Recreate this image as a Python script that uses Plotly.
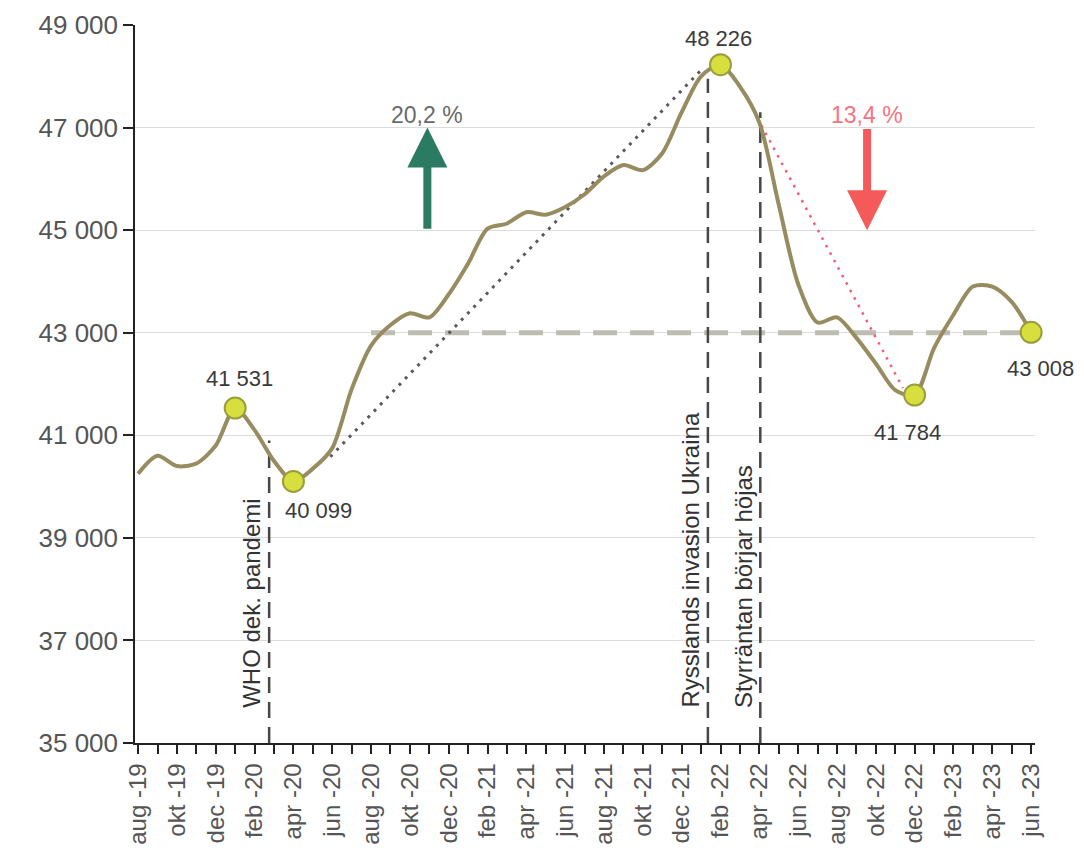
import plotly.graph_objects as go

# ---------------- data ----------------
months = ["aug -19", "sep -19", "okt -19", "nov -19", "dec -19",
          "jan -20", "feb -20", "mar -20", "apr -20", "maj -20", "jun -20", "jul -20",
          "aug -20", "sep -20", "okt -20", "nov -20", "dec -20",
          "jan -21", "feb -21", "mar -21", "apr -21", "maj -21", "jun -21", "jul -21",
          "aug -21", "sep -21", "okt -21", "nov -21", "dec -21",
          "jan -22", "feb -22", "mar -22", "apr -22", "maj -22", "jun -22", "jul -22",
          "aug -22", "sep -22", "okt -22", "nov -22", "dec -22",
          "jan -23", "feb -23", "mar -23", "apr -23", "maj -23", "jun -23"]
values = [40250, 40600, 40400, 40450, 40800, 41531, 41100, 40500, 40099, 40350,
          40750, 41900, 42750, 43150, 43380, 43300, 43750, 44350, 45030, 45130,
          45350, 45300, 45450, 45700, 46050, 46270, 46170, 46500, 47300, 48000,
          48226, 47800, 47100, 45500, 43950, 43200, 43300, 42900, 42400, 41880,
          41784, 42700, 43350, 43900, 43900, 43600, 43008]
highlight_months = ["jan -20", "apr -20", "feb -22", "dec -22", "jun -23"]
# label offsets (px) for highlighted values
label_shift = {"jan -20": (4, 30), "apr -20": (25, -29), "feb -22": (-2, 26),
               "dec -22": (-7, -37), "jun -23": (9, -36)}
y_ticks = [35000, 37000, 39000, 41000, 43000, 45000, 47000, 49000]
y_ticktext = ["35 000", "37 000", "39 000", "41 000", "43 000", "45 000", "47 000", "49 000"]

# events: (label, month position, top value of line)
events = [("WHO dek. pandemi", 6.75, 40900),
          ("Rysslands invasion Ukraina", 29.35, 47950),
          ("Styrräntan börjar höjas", 32.05, 47300)]
reference_level = 43000
reference_from = "aug -20"
trend_up = [(9.9, 40580), (29.1, 48160)]
trend_down = [(31.9, 47190), (39.4, 41920)]
change_up = ("20,2 %", 14.9, 45000, 47000)
change_down = ("13,4 %", 37.55, 47000, 45000)

FONT = "Liberation Sans, Arial, sans-serif"
idx = list(range(len(months)))

fig = go.Figure()

# reference dashed level
ri = months.index(reference_from)
fig.add_trace(go.Scatter(x=[ri, idx[-1]], y=[reference_level, reference_level],
                         mode="lines", line=dict(color="#bdbdb2", width=5, dash="24px,13px"),
                         hoverinfo="skip", showlegend=False))
# trend dotted lines
fig.add_trace(go.Scatter(x=[p[0] for p in trend_up], y=[p[1] for p in trend_up],
                         mode="lines", line=dict(color="#5a5a5a", width=3, dash="3px,6px"),
                         hoverinfo="skip", showlegend=False))
fig.add_trace(go.Scatter(x=[p[0] for p in trend_down], y=[p[1] for p in trend_down],
                         mode="lines", line=dict(color="#f25c7a", width=2.5, dash="2.5px,6px"),
                         hoverinfo="skip", showlegend=False))
# event lines
for label, xpos, top in events:
    fig.add_trace(go.Scatter(x=[xpos, xpos], y=[35000, top], mode="lines",
                             line=dict(color="#474747", width=2.5, dash="16px,9px"),
                             hoverinfo="skip", showlegend=False, cliponaxis=False))
    fig.add_annotation(x=xpos, y=35650, text=label, textangle=-90, showarrow=False,
                       xanchor="right", yanchor="bottom", xshift=-2,
                       font=dict(family=FONT, size=24, color="#333333"))

# main line
fig.add_trace(go.Scatter(x=idx, y=values, mode="lines",
                         line=dict(color="#978b60", width=4, shape="spline", smoothing=0.8),
                         showlegend=False))
# highlighted markers
hx = [months.index(m) for m in highlight_months]
hy = [values[i] for i in hx]
fig.add_trace(go.Scatter(x=hx, y=hy, mode="markers", cliponaxis=False,
                         marker=dict(size=21, color="#d6df3e", line=dict(color="#9a9d3c", width=2)),
                         showlegend=False))
for m in highlight_months:
    i = months.index(m)
    sx, sy = label_shift[m]
    fig.add_annotation(x=i, y=values[i], text=f"{values[i]:,}".replace(",", " "),
                       showarrow=False, xshift=sx, yshift=sy,
                       font=dict(family=FONT, size=22, color="#3a3a3a"))

# change arrows
for (txt, xa, y0, y1), col, tcol in [(change_up, "#2b7a62", "#6a6a6a"),
                                     (change_down, "#f45a5a", "#f7737f")]:
    fig.add_annotation(x=xa, y=y1, ax=xa, ay=y0, xref="x", yref="y", axref="x", ayref="y",
                       showarrow=True, arrowhead=2, arrowsize=1, arrowwidth=8,
                       arrowcolor=col, text="")
    fig.add_annotation(x=xa, y=47245, text=txt, showarrow=False,
                       font=dict(family=FONT, size=23, color=tcol))

# the page body has an 8px margin on every side, so the figure is 16px smaller than the window
fig.update_layout(
    width=1068, height=842,
    margin=dict(l=127, r=41, t=17, b=107, autoexpand=False),
    paper_bgcolor="white", plot_bgcolor="white",
    font=dict(family=FONT, color="#555555"),
)
fig.update_xaxes(range=[-0.16, 46.2], tickmode="array", tickvals=idx,
                 ticktext=[m if i % 2 == 0 else "" for i, m in enumerate(months)],
                 tickangle=-90, ticks="outside", ticklen=9, tickwidth=1.5, tickcolor="#222",
                 showline=True, linecolor="#222", linewidth=1.5, showgrid=False, automargin=False,
                 tickfont=dict(family=FONT, size=24, color="#555555"), zeroline=False)
fig.update_yaxes(range=[35000, 49000], tickmode="array", tickvals=y_ticks, ticktext=y_ticktext,
                 ticks="outside", ticklen=10, tickwidth=1.5, tickcolor="#222",
                 showline=True, linecolor="#222", linewidth=1.5, automargin=False,
                 showgrid=True, gridcolor="#dcdcdc", gridwidth=1, zeroline=False,
                 tickfont=dict(family=FONT, size=26, color="#555555"))

fig.write_html("out.html")
